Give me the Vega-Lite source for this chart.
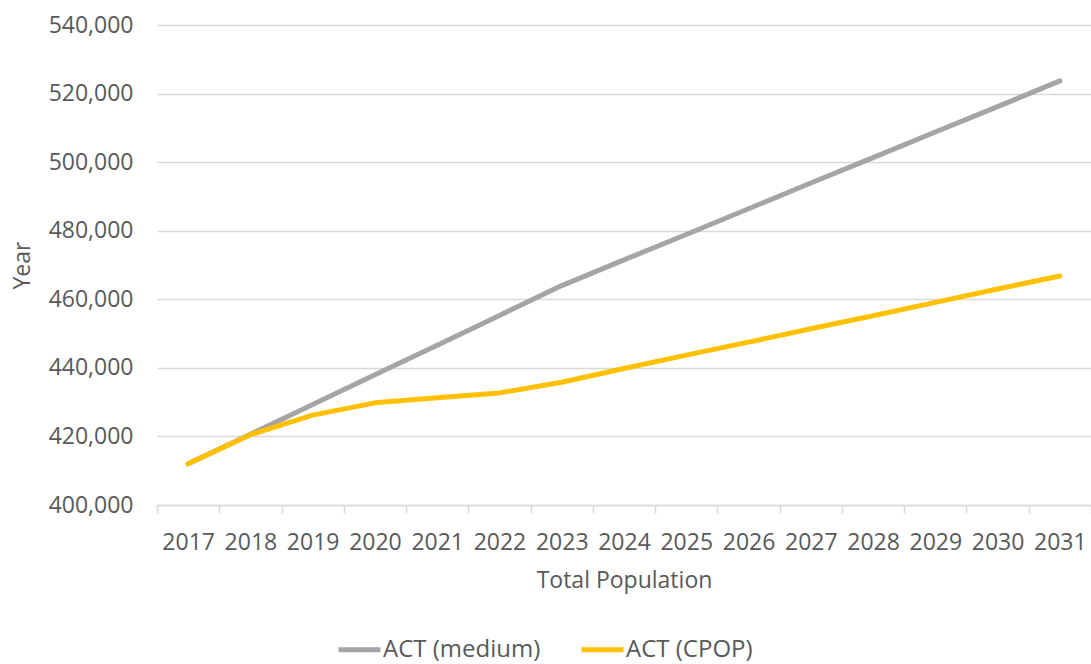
{
  "$schema": "https://vega.github.io/schema/vega-lite/v6.json",
  "width": 934,
  "height": 480,
  "autosize": {"type": "none"},
  "padding": {"left": 157, "top": 25, "right": 0, "bottom": 159},
  "background": "white",
  "config": {
    "view": {"stroke": null},
    "font": "Open Sans",
    "axis": {
      "labelFont": "Open Sans",
      "titleFont": "Open Sans",
      "labelColor": "#595959",
      "titleColor": "#595959",
      "labelFontSize": 23,
      "titleFontSize": 23,
      "titleFontWeight": "normal"
    },
    "legend": {
      "labelFont": "Open Sans",
      "labelColor": "#595959",
      "labelFontSize": 24
    }
  },
  "data": {
    "values": [
      {"year": "2017", "series": "ACT (medium)", "population": 412000},
      {"year": "2018", "series": "ACT (medium)", "population": 420600},
      {"year": "2019", "series": "ACT (medium)", "population": 429300},
      {"year": "2020", "series": "ACT (medium)", "population": 438000},
      {"year": "2021", "series": "ACT (medium)", "population": 446600},
      {"year": "2022", "series": "ACT (medium)", "population": 455300},
      {"year": "2023", "series": "ACT (medium)", "population": 464000},
      {"year": "2024", "series": "ACT (medium)", "population": 471500},
      {"year": "2025", "series": "ACT (medium)", "population": 478900},
      {"year": "2026", "series": "ACT (medium)", "population": 486400},
      {"year": "2027", "series": "ACT (medium)", "population": 493900},
      {"year": "2028", "series": "ACT (medium)", "population": 501300},
      {"year": "2029", "series": "ACT (medium)", "population": 508800},
      {"year": "2030", "series": "ACT (medium)", "population": 516200},
      {"year": "2031", "series": "ACT (medium)", "population": 523700},
      {"year": "2017", "series": "ACT (CPOP)", "population": 412000},
      {"year": "2018", "series": "ACT (CPOP)", "population": 420500},
      {"year": "2019", "series": "ACT (CPOP)", "population": 426200},
      {"year": "2020", "series": "ACT (CPOP)", "population": 429800},
      {"year": "2021", "series": "ACT (CPOP)", "population": 431300},
      {"year": "2022", "series": "ACT (CPOP)", "population": 432700},
      {"year": "2023", "series": "ACT (CPOP)", "population": 435800},
      {"year": "2024", "series": "ACT (CPOP)", "population": 439800},
      {"year": "2025", "series": "ACT (CPOP)", "population": 443700},
      {"year": "2026", "series": "ACT (CPOP)", "population": 447500},
      {"year": "2027", "series": "ACT (CPOP)", "population": 451400},
      {"year": "2028", "series": "ACT (CPOP)", "population": 455200},
      {"year": "2029", "series": "ACT (CPOP)", "population": 459100},
      {"year": "2030", "series": "ACT (CPOP)", "population": 463000},
      {"year": "2031", "series": "ACT (CPOP)", "population": 466800}
    ]
  },
  "encoding": {
    "x": {
      "field": "year",
      "type": "ordinal",
      "bandPosition": 0.5,
      "scale": {"type": "band", "paddingInner": 0, "paddingOuter": 0},
      "axis": {
        "title": "Total Population",
        "labelAngle": 0,
        "tickBand": "extent",
        "grid": false,
        "domainColor": "#d9d9d9",
        "domainWidth": 1.5,
        "tickColor": "#d9d9d9",
        "tickWidth": 1.5,
        "tickSize": 8,
        "labelPadding": 18,
        "titlePadding": 15
      }
    },
    "y": {
      "field": "population",
      "type": "quantitative",
      "scale": {"domain": [400000, 540000], "nice": false, "zero": false},
      "axis": {
        "title": "Year",
        "values": [400000, 420000, 440000, 460000, 480000, 500000, 520000, 540000],
        "format": ",.0f",
        "domain": false,
        "ticks": false,
        "grid": true,
        "gridColor": "#d9d9d9",
        "gridWidth": 1.5,
        "labelPadding": 24,
        "titlePadding": 14
      }
    },
    "color": {
      "field": "series",
      "type": "nominal",
      "scale": {"domain": ["ACT (medium)", "ACT (CPOP)"], "range": ["#a5a5a5", "#ffc000"]},
      "legend": {
        "title": null,
        "orient": "none",
        "direction": "horizontal",
        "legendX": 179,
        "legendY": 601,
        "symbolType": "stroke",
        "symbolStrokeWidth": 5,
        "symbolSize": 1764,
        "labelOffset": 0,
        "columnPadding": 30
      }
    }
  },
  "layer": [
    {
      "transform": [{"filter": "datum.series === 'ACT (medium)'"}],
      "mark": {"type": "line", "strokeWidth": 5, "strokeCap": "round", "strokeJoin": "round"}
    },
    {
      "transform": [{"filter": "datum.series === 'ACT (CPOP)'"}],
      "mark": {"type": "line", "strokeWidth": 5, "strokeCap": "round", "strokeJoin": "round"}
    }
  ]
}
